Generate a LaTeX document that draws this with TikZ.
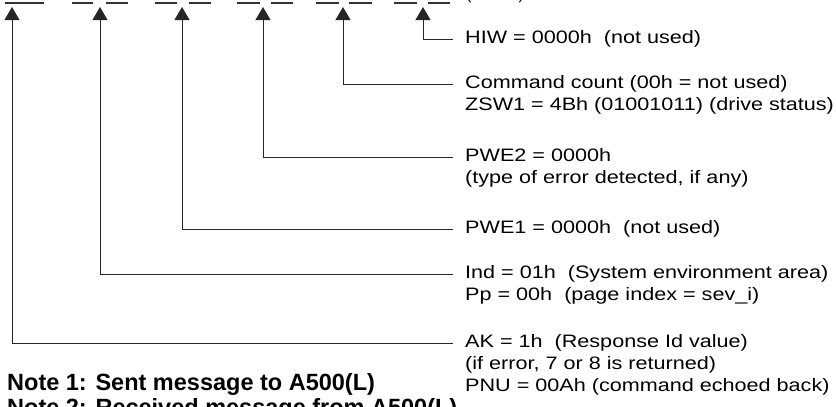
\documentclass[tikz,border=0pt]{standalone}
\usepackage{fontspec}
\setmainfont{Liberation Sans}
\newfontfamily\lblfont[FakeStretch=1.2]{Liberation Sans}
\usetikzlibrary{arrows.meta}
\begin{document}
\begin{tikzpicture}[x=1pt,y=-1pt,
  seg/.style={draw=black!80,line width=1.1pt},
  conn/.style={draw=black!85,line width=1pt,-{Triangle[width=15pt,length=13pt]}},
  lbl/.style={anchor=west,inner xsep=0pt,inner ysep=0pt,font=\lblfont\fontsize{18}{22}\selectfont,text height=0.74em,text depth=0.24em},
  note/.style={anchor=base west,inner sep=0pt,font=\fontsize{23.5}{28}\selectfont\bfseries}]
\useasboundingbox (0,0) rectangle (836,407);
% top field marks
\draw[seg] (5,3) -- (44,3);
\draw[seg] (72,3) -- (93,3);   \draw[seg] (106,3) -- (128,3);
\draw[seg] (155,3) -- (177,3); \draw[seg] (189,3) -- (211,3);
\draw[seg] (237,3) -- (260,3); \draw[seg] (271,3) -- (293,3);
\draw[seg] (316,3) -- (339,3); \draw[seg] (349,3) -- (372,3);
\draw[seg] (394,3) -- (417,3); \draw[seg] (428,3) -- (450,3);
\node[anchor=base west,inner sep=0pt,font=\fontsize{16}{20}\selectfont] (top) at (466,-1) {(Note 2)};
% arrow tip coordinates
\coordinate (t1) at (12,7);
\coordinate (t2) at (100,7);
\coordinate (t3) at (182,7);
\coordinate (t4) at (263,7);
\coordinate (t5) at (343,7);
\coordinate (t6) at (423,7);
% corner coordinates on label lines
\coordinate (c6) at (453,39);
\coordinate (c5) at (453,84);
\coordinate (c4) at (453,157);
\coordinate (c3) at (453,229);
\coordinate (c2) at (453,274);
\coordinate (c1) at (453,343);
% labels
\node[lbl] (hiw) at (465,41) {HIW = 0000h\ \ (not used)};
\node[lbl] (cmd) at (465,86) {Command count (00h = not used)};
\node[lbl] (zsw) at (465,108) {ZSW1 = 4Bh (01001011) (drive status)};
\node[lbl] (pwe2) at (465,159) {PWE2 = 0000h};
\node[lbl] (type) at (465,181) {(type of error detected, if any)};
\node[lbl] (pwe1) at (465,231) {PWE1 = 0000h\ \ (not used)};
\node[lbl] (ind) at (465,276) {Ind = 01h\ \ (System environment area)};
\node[lbl] (pp) at (465,298) {Pp = 00h\ \ (page index = sev\_i)};
\node[lbl] (ak) at (465,345) {AK = 1h\ \ (Response Id value)};
\node[lbl] (iferr) at (465,367) {(if error, 7 or 8 is returned)};
\node[lbl] (pnu) at (465,389) {PNU = 00Ah (command echoed back)};
% connectors
\draw[conn] (c6) -| (t6);
\draw[conn] (c5) -| (t5);
\draw[conn] (c4) -| (t4);
\draw[conn] (c3) -| (t3);
\draw[conn] (c2) -| (t2);
\draw[conn] (c1) -| (t1);
% notes
\node[note] (n1) at (7,390) {Note 1: Sent message to A500(L)};
\node[note] (n2) at (7,415) {Note 2: Received message from A500(L)};
\end{tikzpicture}
\end{document}
